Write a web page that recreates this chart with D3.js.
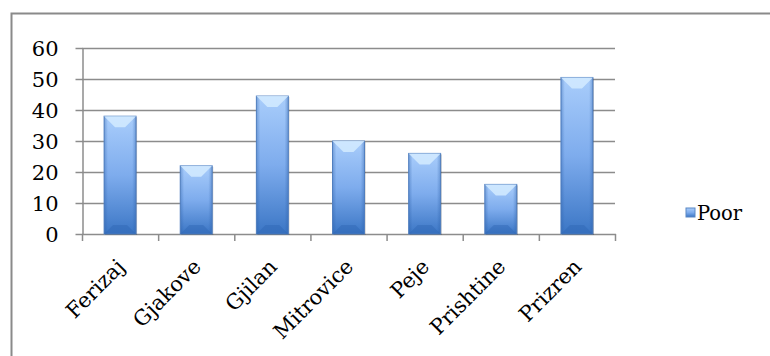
<!DOCTYPE html>
<html>
  <head>
    <meta charset="utf-8" />
    <script src="https://d3js.org/d3.v7.min.js"></script>
    <style>
        body {margin: 0; background: #fff;}
    </style>
  </head>
  <body>
    <svg id="viz"></svg>

    <script>
        var width = 770
        var height = 356
        var font = "'DejaVu Serif', 'Liberation Serif', serif"

        // chart data
        var towns = ["Ferizaj", "Gjakove", "Gjilan", "Mitrovice", "Peje", "Prishtine", "Prizren"]
        var poor = [38, 22, 44.5, 30, 26, 16, 50.5]
        var yTicks = [0, 10, 20, 30, 40, 50, 60]
        var seriesName = "Poor"

        var svg = d3.select("#viz")
            .attr("width", width)
            .attr("height", height);

        // outer frame (runs off the right and bottom edges)
        svg.append("rect")
            .attr("x", 11.5).attr("y", 13.5)
            .attr("width", 800).attr("height", 400)
            .attr("fill", "none")
            .attr("stroke", "#8a8a8a")
            .attr("stroke-width", 2);

        var x = d3.scaleBand()
            .domain(towns)
            .range([82, 615])
            .paddingInner(0.58)
            .paddingOuter(0.29);

        var y = d3.scaleLinear()
            .domain([0, 60])
            .range([234, 48]);

        var defs = svg.append("defs");

        // vertical body gradient
        var g1 = defs.append("linearGradient")
            .attr("id", "body").attr("x1", 0).attr("y1", 0).attr("x2", 0).attr("y2", 1);
        g1.append("stop").attr("offset", "0%").attr("stop-color", "#a9cdfb");
        g1.append("stop").attr("offset", "50%").attr("stop-color", "#7eaced");
        g1.append("stop").attr("offset", "100%").attr("stop-color", "#3b76c5");

        // side shading
        var g2 = defs.append("linearGradient")
            .attr("id", "side").attr("x1", 0).attr("y1", 0).attr("x2", 1).attr("y2", 0);
        g2.append("stop").attr("offset", "0%").attr("stop-color", "#2a5ea8").attr("stop-opacity", 0.4);
        g2.append("stop").attr("offset", "12%").attr("stop-color", "#2a5ea8").attr("stop-opacity", 0);
        g2.append("stop").attr("offset", "88%").attr("stop-color", "#2a5ea8").attr("stop-opacity", 0);
        g2.append("stop").attr("offset", "100%").attr("stop-color", "#2a5ea8").attr("stop-opacity", 0.4);

        // gridlines
        svg.append("g")
            .selectAll("line")
            .data(yTicks.slice(1))
            .enter().append("line")
            .attr("x1", 82).attr("x2", 615)
            .attr("y1", function(d) { return Math.round(y(d)) + 0.5; })
            .attr("y2", function(d) { return Math.round(y(d)) + 0.5; })
            .attr("stroke", "#8c8c8c")
            .attr("stroke-width", 1.5);

        // y axis
        var yAxis = svg.append("g")
            .attr("transform", "translate(82.5,0)")
            .call(d3.axisLeft(y).tickValues(yTicks).tickSize(7).tickPadding(17).tickSizeOuter(0));
        yAxis.attr("font-family", null);
        yAxis.selectAll("line, path").attr("stroke", "#8c8c8c").attr("stroke-width", 1.5);
        yAxis.selectAll("text")
            .style("font-family", font)
            .style("font-size", "21px")
            .attr("fill", "#000")
            .attr("dy", "0.36em");

        // x axis line + ticks at category boundaries
        svg.append("line")
            .attr("x1", 82).attr("x2", 616)
            .attr("y1", y(0) + 0.5).attr("y2", y(0) + 0.5)
            .attr("stroke", "#8c8c8c").attr("stroke-width", 1.5);

        var step = x.step();
        svg.append("g")
            .selectAll("line")
            .data(d3.range(towns.length + 1))
            .enter().append("line")
            .attr("x1", function(i) { return 82.5 + i * step; })
            .attr("x2", function(i) { return 82.5 + i * step; })
            .attr("y1", y(0)).attr("y2", y(0) + 7)
            .attr("stroke", "#8c8c8c").attr("stroke-width", 1.5);

        // bars
        var bars = svg.append("g")
            .selectAll("g")
            .data(towns)
            .enter().append("g");

        bars.append("rect")
            .attr("x", function(d) { return x(d) + 1; })
            .attr("y", function(d, i) { return y(poor[i]) + 1; })
            .attr("width", x.bandwidth())
            .attr("height", function(d, i) { return y(0) - y(poor[i]); })
            .attr("fill", "#000").attr("opacity", 0.25);

        bars.append("rect")
            .attr("x", function(d) { return x(d); })
            .attr("y", function(d, i) { return y(poor[i]); })
            .attr("width", x.bandwidth())
            .attr("height", function(d, i) { return y(0) - y(poor[i]); })
            .attr("fill", "url(#body)")
            .attr("stroke", "#5b87c4").attr("stroke-width", 1);

        bars.append("rect")
            .attr("x", function(d) { return x(d); })
            .attr("y", function(d, i) { return y(poor[i]); })
            .attr("width", x.bandwidth())
            .attr("height", function(d, i) { return y(0) - y(poor[i]); })
            .attr("fill", "url(#side)");

        // top bevel
        bars.append("path")
            .attr("d", function(d, i) {
                var x0 = x(d), x1 = x(d) + x.bandwidth(), t = y(poor[i]), b = 11;
                return "M" + x0 + "," + t + "L" + x1 + "," + t + "L" + (x1 - b) + "," + (t + b) + "L" + (x0 + b) + "," + (t + b) + "Z";
            })
            .attr("fill", "#d4ebff").attr("opacity", 0.85);

        // bottom bevel
        bars.append("path")
            .attr("d", function(d, i) {
                var x0 = x(d), x1 = x(d) + x.bandwidth(), bt = y(0), b = 9;
                return "M" + x0 + "," + bt + "L" + x1 + "," + bt + "L" + (x1 - b) + "," + (bt - b) + "L" + (x0 + b) + "," + (bt - b) + "Z";
            })
            .attr("fill", "#2f67b3").attr("opacity", 0.45);

        // category labels rotated 45deg
        svg.append("g")
            .selectAll("text")
            .data(towns)
            .enter().append("text")
            .attr("transform", function(d) {
                return "translate(" + (x(d) + x.bandwidth() / 2 + 6) + "," + (y(0) + 34) + ") rotate(-45)";
            })
            .attr("text-anchor", "end")
            .style("font-family", font)
            .style("font-size", "21px")
            .text(function(d) { return d; });

        // legend
        var legend = svg.append("g").attr("transform", "translate(686,208)");
        legend.append("rect")
            .attr("width", 9).attr("height", 9)
            .attr("fill", "url(#body)")
            .attr("stroke", "#5b87c4");
        legend.append("text")
            .attr("x", 11).attr("y", 12)
            .style("font-family", font)
            .style("font-size", "19.5px")
            .text(seriesName);
    </script>
  </body>
</html>
